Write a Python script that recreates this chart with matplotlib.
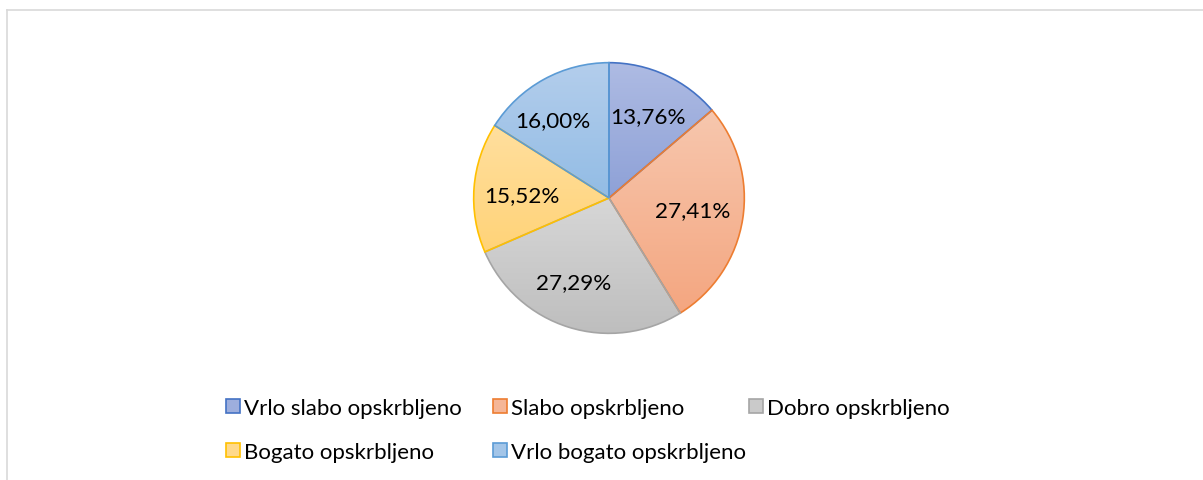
import numpy as np
import matplotlib
matplotlib.use("Agg")
import matplotlib.pyplot as plt
from matplotlib.colors import LinearSegmentedColormap
from matplotlib.lines import Line2D

# data
categories = ["Vrlo slabo opskrbljeno", "Slabo opskrbljeno", "Dobro opskrbljeno",
              "Bogato opskrbljeno", "Vrlo bogato opskrbljeno"]
shares = [13.76, 27.41, 27.29, 15.52, 16.00]
pct_labels = ["13,76%", "27,41%", "27,29%", "15,52%", "16,00%"]

# styles
edge_colors = ["#4472C4", "#ED7D31", "#A5A5A5", "#FFC000", "#5B9BD5"]
light_colors = ["#AEBBE3", "#F7C7AE", "#D7D7D7", "#FFDF9E", "#B4CEEC"]
dark_colors = ["#8EA1D7", "#F4A680", "#BEBEBE", "#FFD378", "#92BCE5"]
mid_colors = ["#9DAEDD", "#F5B697", "#CACACA", "#FFD98B", "#A3C5E8"]
# Excel "best fit" label centres, in pie radius units
label_xy = [(0.287, 0.603), (0.618, -0.088), (-0.265, -0.618), (-0.647, 0.022), (-0.412, 0.574)]

plt.rcParams['font.family'] = ['Lato', 'DejaVu Sans']

W, H = 1203, 481
fig = plt.figure(figsize=(W / 100, H / 100), dpi=100)
fig.patch.set_facecolor("white")

# pie axes: center (609, 199) px, radius 136 px
cx, cy, r = 609, 199, 136
ax = fig.add_axes([(cx - r) / W, (H - cy - r) / H, 2 * r / W, 2 * r / H])

wedges, texts = ax.pie(shares, labels=pct_labels, colors=mid_colors, startangle=90,
                       counterclock=False, labeldistance=0.66,
                       wedgeprops=dict(edgecolor="none", linewidth=1.2),
                       textprops=dict(fontsize=16.2, color="#000000"))
for t, pos in zip(texts, label_xy):
    t.set_position(pos)
    t.set_ha("center")
    t.set_va("center")

# legend: one entry per position, Excel-like row-major layout
leg_pos = [(226, 409), (493, 409), (749, 409), (226, 453), (493, 453)]
for w, ec, name, (lx, ly) in zip(wedges, edge_colors, categories, leg_pos):
    w.set_edgecolor(ec)
    leg = fig.legend([w], [name], loc="center left",
                     bbox_to_anchor=(lx / W, 1 - ly / H), frameon=False,
                     handlelength=0.63, handleheight=0.63, handletextpad=0.2,
                     borderpad=0, borderaxespad=0,
                     prop=dict(size=16), labelcolor="#000000")

# gradient fill clipped to each wedge
grad = np.linspace(0, 1, 256).reshape(-1, 1)
for w, lc, dc, ec in zip(wedges, light_colors, dark_colors, edge_colors):
    bb = w.get_path().get_extents()
    cmap = LinearSegmentedColormap.from_list("g", [dc, lc])
    im = ax.imshow(grad, cmap=cmap, origin="lower", aspect="auto",
                   extent=[bb.x0, bb.x1, bb.y0, bb.y1], zorder=1)
    im.set_clip_path(w)
    w.set_facecolor("none")
    w.set_zorder(2)
for t in texts:
    t.set_zorder(3)

ax.set_xlim(-1.005, 1.005)
ax.set_ylim(-1.005, 1.005)
ax.set_aspect("equal")
ax.axis("off")

# chart border (top and left only visible)
fig.add_artist(Line2D([6.5 / W, 1], [1 - 10.5 / H, 1 - 10.5 / H], color="#D9D9D9", lw=1.2))
fig.add_artist(Line2D([6.5 / W, 6.5 / W], [1 - 10.5 / H, 0], color="#D9D9D9", lw=1.2))

fig.savefig("out.png", dpi=100, facecolor="white")
